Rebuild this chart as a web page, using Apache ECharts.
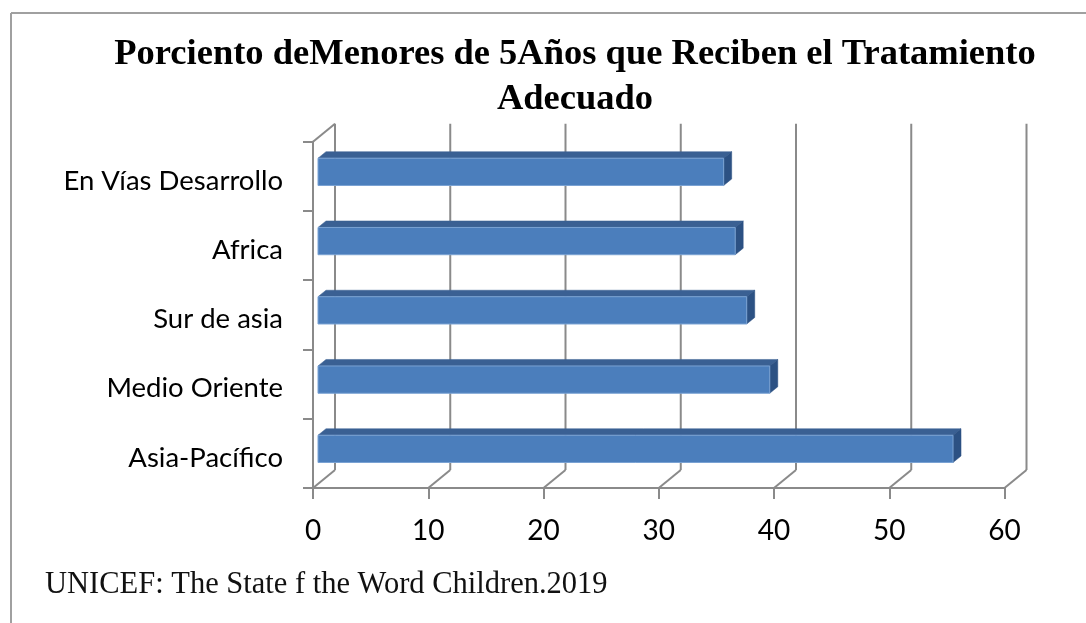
<!DOCTYPE html>
<html>
<head>
<meta charset="utf-8">
<script src="https://cdn.jsdelivr.net/npm/echarts@6/dist/echarts.min.js"></script>
<style>
html,body{margin:0;padding:0;background:#fff;}
#chart{width:1086px;height:623px;}
</style>
</head>
<body>
<div id="chart"></div>
<script>
// Data (bottom to top)
const categories = ['Asia-Pacífico', 'Medio Oriente', 'Sur de asia', 'Africa', 'En Vías Desarrollo'];
const values = [55.1, 39.2, 37.2, 36.2, 35.2];
const xTicks = [0, 10, 20, 30, 40, 50, 60];
const titleText = 'Porciento deMenores de 5Años que Reciben el Tratamiento\nAdecuado';
const sourceText = 'UNICEF: The State f the Word Children.2019';

// 3D styling (pixels)
const WALL_DX = 22, WALL_DY = -18;   // depth of the plot box
const BAR_OX = 5, BAR_OY = -4.5;     // bar front face offset into the box
const BAR_DX = 8, BAR_DY = -6.5;     // bar depth
const BAR_RATIO = 0.394;
const AXIS_COLOR = '#8a8a8a';

const chart = echarts.init(document.getElementById('chart'));

const option = {
  backgroundColor: '#ffffff',
  animation: false,
  title: {
    text: titleText,
    left: 570,
    top: 27,
    textAlign: 'center',
    textStyle: {
      fontFamily: 'Liberation Serif',
      fontWeight: 'bold',
      fontSize: 36.5,
      lineHeight: 45,
      color: '#000'
    }
  },
  grid: {
    left: 313,
    right: 81.5,
    top: 141.7,
    bottom: 135,
    outerBoundsMode: 'none',
    containLabel: false
  },
  xAxis: {
    type: 'value',
    min: 0,
    max: 60,
    interval: 10,
    axisLine: { show: true, lineStyle: { color: AXIS_COLOR, width: 2 } },
    axisTick: { show: true, length: 11, lineStyle: { color: AXIS_COLOR, width: 2 } },
    splitLine: { show: false },
    axisLabel: { fontFamily: 'Lato', fontSize: 28, color: '#000', margin: 29 }
  },
  yAxis: {
    type: 'category',
    data: categories,
    axisLine: { show: true, lineStyle: { color: AXIS_COLOR, width: 2 } },
    axisTick: { show: true, length: 10, lineStyle: { color: AXIS_COLOR, width: 2 } },
    splitLine: { show: false },
    axisLabel: {
      margin: 30,
      formatter: function (v) { return '{a|' + v + '}'; },
      rich: {
        a: { fontFamily: 'Lato', fontSize: 27.5, color: '#000', padding: [9, 0, 0, 0] }
      }
    }
  },
  graphic: [
    { type: 'line', shape: { x1: 11, y1: 13, x2: 1086, y2: 13 }, style: { stroke: '#a0a0a0', lineWidth: 2 } },
    { type: 'line', shape: { x1: 11, y1: 13, x2: 11, y2: 623 }, style: { stroke: '#a0a0a0', lineWidth: 2 } },
    {
      type: 'text', left: 45, top: 569,
      style: { text: sourceText, fontFamily: 'Liberation Serif', fontSize: 30.5, fill: '#111' }
    }
  ],
  series: [
    {
      type: 'custom',
      name: 'walls',
      z: 1,
      clip: false,
      silent: true,
      encode: { x: 0, y: 1 },
      data: xTicks.map(v => [v, 0]),
      renderItem: function (params, api) {
        const v = api.value(0);
        const p = api.coord([v, 0]);
        const cs = params.coordSys;
        const yb = cs.y + cs.height, yt = cs.y;
        const st = { stroke: AXIS_COLOR, lineWidth: 2 };
        const children = [
          { type: 'line', shape: { x1: p[0], y1: yb, x2: p[0] + WALL_DX, y2: yb + WALL_DY }, style: st },
          { type: 'line', shape: { x1: p[0] + WALL_DX, y1: yt + WALL_DY, x2: p[0] + WALL_DX, y2: yb + WALL_DY }, style: st }
        ];
        if (params.dataIndex === 0) {
          children.push({ type: 'line', shape: { x1: cs.x, y1: yt, x2: cs.x + WALL_DX, y2: yt + WALL_DY }, style: st });
        }
        return { type: 'group', children: children };
      }
    },
    {
      type: 'custom',
      name: 'bars',
      z: 3,
      clip: false,
      encode: { x: 0, y: 1 },
      data: categories.map((c, i) => [values[i], i]),
      renderItem: function (params, api) {
        const v = api.value(0), idx = api.value(1);
        const s = api.coord([0, idx]);
        const e = api.coord([v, idx]);
        const band = api.size([0, 1])[1];
        const h = band * BAR_RATIO;
        const x0 = s[0] + BAR_OX, x1 = e[0] + BAR_OX;
        const yc = s[1] + BAR_OY;
        const top = yc - h / 2, bottom = yc + h / 2;
        return {
          type: 'group',
          children: [
            {
              type: 'polygon',
              shape: { points: [[x0, top], [x1, top], [x1 + BAR_DX, top + BAR_DY], [x0 + BAR_DX, top + BAR_DY]] },
              style: { fill: '#3a6093', stroke: '#3a6093', lineWidth: 0.5 }
            },
            {
              type: 'polygon',
              shape: { points: [[x1, top], [x1 + BAR_DX, top + BAR_DY], [x1 + BAR_DX, bottom + BAR_DY], [x1, bottom]] },
              style: { fill: '#2c5183', stroke: '#2c5183', lineWidth: 0.5 }
            },
            {
              type: 'rect',
              shape: { x: x0, y: top, width: x1 - x0, height: h },
              style: { fill: '#4b7ebc', stroke: '#7aa2d3', lineWidth: 1 }
            }
          ]
        };
      }
    }
  ]
};

chart.setOption(option);
</script>
</body>
</html>
